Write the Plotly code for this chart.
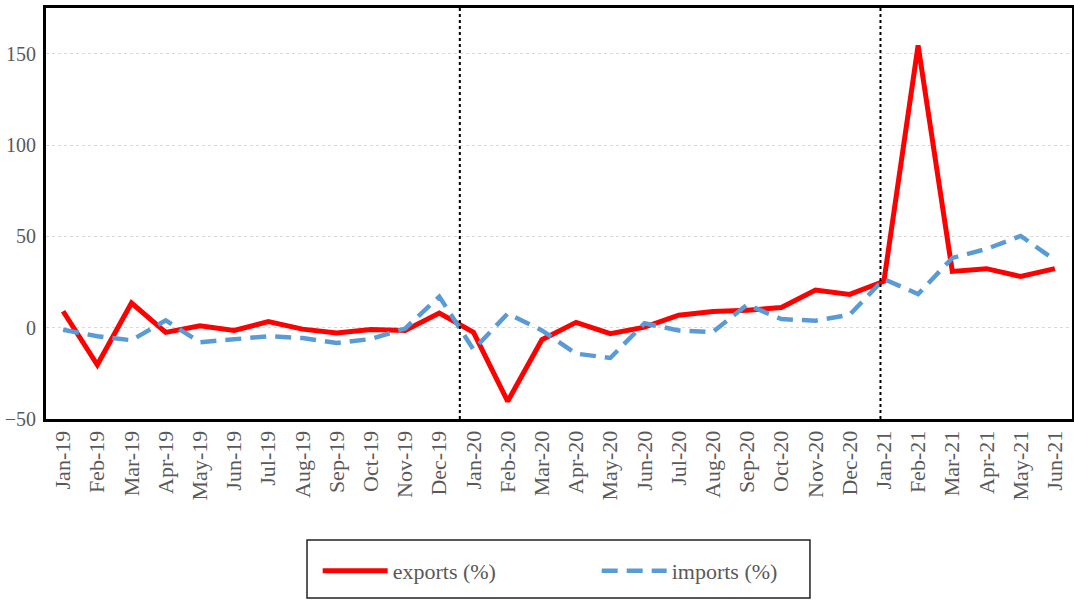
import plotly.graph_objects as go

months = ["Jan-19", "Feb-19", "Mar-19", "Apr-19", "May-19", "Jun-19", "Jul-19", "Aug-19",
          "Sep-19", "Oct-19", "Nov-19", "Dec-19", "Jan-20", "Feb-20", "Mar-20", "Apr-20",
          "May-20", "Jun-20", "Jul-20", "Aug-20", "Sep-20", "Oct-20", "Nov-20", "Dec-20",
          "Jan-21", "Feb-21", "Mar-21", "Apr-21", "May-21", "Jun-21"]

exports = [9.0, -20.3, 13.5, -2.6, 1.0, -1.5, 3.3, -0.8, -2.9, -1.0, -1.5, 8.0,
           -2.6, -40.3, -6.6, 2.9, -3.3, 0.3, 6.8, 8.9, 9.5, 11.0, 20.6, 18.2,
           25.4, 154.5, 30.8, 32.3, 28.0, 32.3]

imports = [-1.1, -4.7, -6.9, 4.0, -8.0, -6.6, -4.7, -5.7, -8.4, -6.2, -0.5, 17.0,
           -12.0, 7.7, -1.5, -14.2, -16.6, 2.4, -1.5, -2.4, 12.6, 4.7, 3.8, 7.1,
           26.6, 18.4, 38.2, 43.1, 50.2, 37.0]

# period separators (category positions)
separators = [11.6, 23.9]

font_family = "Liberation Serif, Times New Roman, serif"
tick_color = "#595959"

fig = go.Figure()
fig.add_trace(go.Scatter(x=months, y=exports, mode="lines", name="exports (%)",
                         line=dict(color="#FF0000", width=5)))
fig.add_trace(go.Scatter(x=months, y=imports, mode="lines", name="imports (%)",
                         line=dict(color="#5B9BD5", width=4.5, dash="16px,9px")))

for s in separators:
    fig.add_shape(type="line", xref="x", yref="paper", x0=s, x1=s, y0=0, y1=1,
                  line=dict(color="black", width=2, dash="dot"))

# legend frame
fig.add_shape(type="rect", xref="paper", yref="paper", x0=0.2544, x1=0.7446,
              y0=-0.4355, y1=-0.2944, line=dict(color="#222222", width=1.5),
              fillcolor="rgba(0,0,0,0)")

fig.update_layout(
    width=1074, height=600,
    margin=dict(l=46, r=2, t=8, b=181, autoexpand=False),
    paper_bgcolor="white", plot_bgcolor="white",
    font=dict(family=font_family, size=20, color=tick_color),
    showlegend=True,
    legend=dict(orientation="h", x=0.2648, xanchor="left", y=-0.3698, yanchor="middle",
                bgcolor="rgba(0,0,0,0)", borderwidth=0, entrywidth=199,
                font=dict(size=22, color=tick_color), itemwidth=65),
)
fig.update_xaxes(type="category", range=[-0.5, 29.5], tickangle=-90, automargin=False,
                 showgrid=False, showline=True, linecolor="black", linewidth=3,
                 mirror=True, ticks="", tickfont=dict(size=22, color=tick_color))
fig.update_yaxes(range=[-50, 175], tickvals=[-50, 0, 50, 100, 150], automargin=False,
                 showgrid=True, gridcolor="#d9d9d9", griddash="dot", gridwidth=1,
                 zeroline=False, showline=True, linecolor="black", linewidth=3,
                 mirror=True, ticks="", ticklabelstandoff=3,
                 tickfont=dict(size=20, color=tick_color))

# drop the browser's default 8px body margin so the figure sits at the window origin
fig.write_html("out.html", config={"displayModeBar": False},
               post_script="document.body.style.margin='0';")
